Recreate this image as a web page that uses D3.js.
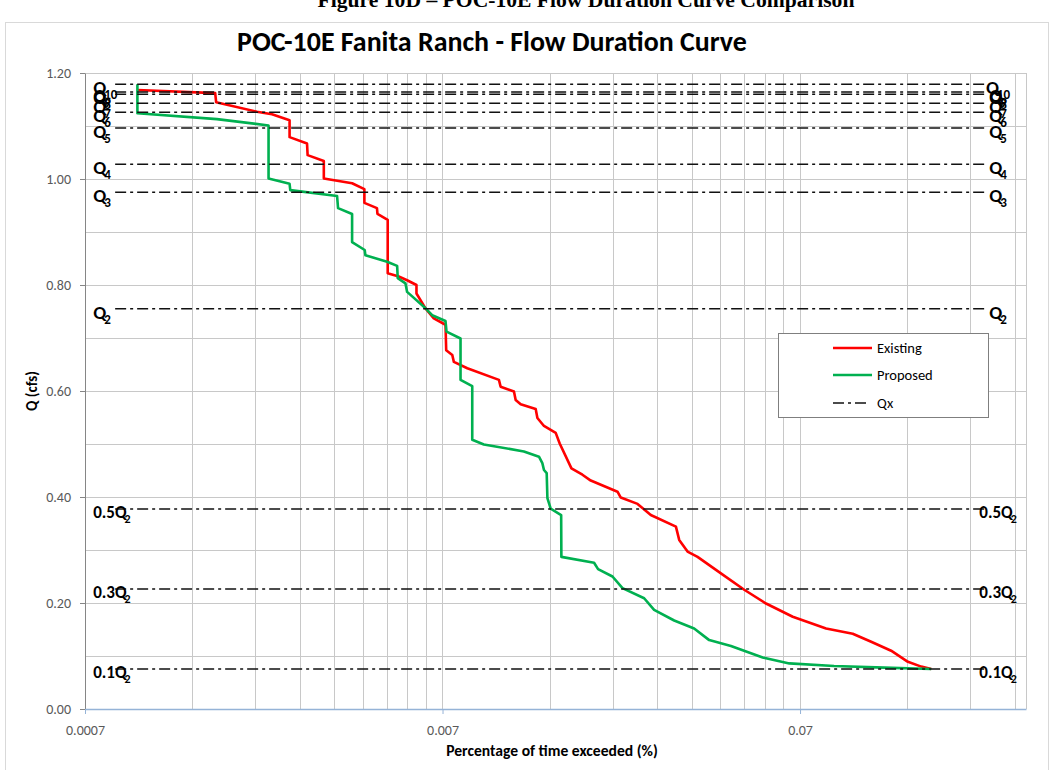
<!DOCTYPE html>
<html><head><meta charset="utf-8">
<script src="https://cdn.jsdelivr.net/npm/d3@7"></script>
<style>body{margin:0;background:#fff;} svg{display:block;}</style>
</head><body>
<svg id="c" width="1051" height="770"></svg>
<script>
// ---- data ----
const existingX = [0.000981,0.001619,0.001629,0.002119,0.002334,0.002614,0.002614,0.002925,0.002936,0.003259,0.003259,0.00391,0.004232,0.004232,0.004589,0.004604,0.004918,0.004918,0.00528,0.005573,0.005919,0.005919,0.006274,0.006618,0.007136,0.007168,0.007454,0.00753,0.008211,0.010066,0.010178,0.011089,0.011213,0.011579,0.012755,0.012897,0.013455,0.014512,0.014889,0.016058,0.017234,0.018186,0.021602,0.022064,0.024584,0.026768,0.031472,0.032144,0.033915,0.036176,0.042049,0.048874,0.056231,0.066787,0.082775,0.09828,0.11067,0.12586,0.14021,0.15281,0.16296];
const existingY = [1.168,1.162,1.145,1.127,1.122,1.111,1.079,1.067,1.045,1.034,1.001,0.992,0.981,0.955,0.945,0.934,0.923,0.822,0.816,0.809,0.800,0.784,0.756,0.737,0.725,0.677,0.668,0.655,0.643,0.621,0.608,0.599,0.583,0.575,0.566,0.549,0.534,0.521,0.501,0.454,0.442,0.431,0.410,0.399,0.387,0.366,0.344,0.319,0.297,0.287,0.256,0.225,0.199,0.174,0.152,0.142,0.127,0.110,0.089,0.080,0.0755];
const proposedX = [0.000981,0.000981,0.001637,0.002283,0.002283,0.002614,0.002626,0.003549,0.003572,0.00391,0.00391,0.004241,0.00426,0.004899,0.005226,0.005246,0.005514,0.005573,0.006274,0.00655,0.007136,0.007183,0.007861,0.007861,0.008477,0.008477,0.009135,0.011823,0.013027,0.013314,0.013455,0.013692,0.013755,0.014049,0.015029,0.01505,0.018578,0.019061,0.020916,0.022309,0.025648,0.027349,0.031122,0.035392,0.038997,0.044863,0.055034,0.065331,0.08715,0.12054,0.16296];
const proposedY = [1.179,1.124,1.113,1.101,1.001,0.991,0.979,0.968,0.945,0.934,0.881,0.866,0.856,0.844,0.836,0.813,0.803,0.787,0.756,0.743,0.732,0.712,0.699,0.621,0.609,0.508,0.499,0.486,0.476,0.464,0.451,0.445,0.398,0.378,0.366,0.287,0.276,0.264,0.250,0.228,0.209,0.187,0.167,0.152,0.130,0.119,0.097,0.086,0.081,0.078,0.0755];

const qxPrefix = ["", "", "", "", "", "", "", "", "", "0.5", "0.3", "0.1"];
const qxSub    = ["10", "9", "8", "7", "6", "5", "4", "3", "2", "2", "2", "2"];
const qxValues = [1.179, 1.164, 1.160, 1.143, 1.126, 1.096, 1.028, 0.975, 0.755, 0.3775, 0.2265, 0.0755];
const qxExtent = [0.00085, 0.232];

const xTickValues = [0.0007, 0.007, 0.07];
const xTickLabels = ["0.0007", "0.007", "0.07"];
const yTickValues = [0, 0.2, 0.4, 0.6, 0.8, 1.0, 1.2];
const yGridValues = [0.1, 0.2, 0.3, 0.4, 0.5, 0.6, 0.7, 0.8, 0.9, 1.0, 1.1, 1.2];
const legendNames = ["Existing", "Proposed", "Qx"];

const titleText = "POC-10E Fanita Ranch - Flow Duration Curve";
const headerText = "Figure 10D – POC-10E Flow Duration Curve Comparison";
const xTitle = "Percentage of time exceeded (%)";
const yTitle = "Q (cfs)";

// ---- drawing ----
const FONT = "Carlito, Calibri, Lato, sans-serif";
const svg = d3.select("#c");
const x = d3.scaleLog().domain([0.0007, 0.3]).range([85, 1026]);
const y = d3.scaleLinear().domain([0, 1.2]).range([709, 73]);

function fit(sel, w) {
  const cur = sel.node().getComputedTextLength();
  const fs = parseFloat(sel.attr("font-size"));
  sel.attr("font-size", fs * w / cur);
}

// chart border
svg.append("rect").attr("x", 5.5).attr("y", 22.5).attr("width", 1043).attr("height", 760)
  .attr("fill", "none").attr("stroke", "#D9D9D9");

// header (cut off at top, as in the source page)
const hdr = svg.append("text").attr("x", 586).attr("y", 7).attr("text-anchor", "middle")
  .attr("font-family", "Liberation Serif, serif").attr("font-weight", "bold").attr("font-size", 18)
  .text(headerText);
fit(hdr, 537);

// title
const ttl = svg.append("text").attr("x", 492).attr("y", 51).attr("text-anchor", "middle")
  .attr("font-family", FONT).attr("font-weight", "bold").attr("font-size", 24).attr("fill", "#000")
  .text(titleText);
fit(ttl, 510);

// gridlines
const gridX = [];
[0.0007, 0.007, 0.07].forEach(d => { for (let k = 2; k <= 9; k++) { const v = d * k; if (v <= 0.3) gridX.push(v); } });
gridX.push(0.007, 0.07, 0.3);
svg.append("g").selectAll("line").data(gridX).join("line")
  .attr("x1", d => x(d)).attr("x2", d => x(d)).attr("y1", y(0)).attr("y2", y(1.2))
  .attr("stroke", "#C8C8C8").attr("stroke-width", 1).attr("shape-rendering", "crispEdges");
svg.append("g").selectAll("line").data(yGridValues).join("line")
  .attr("x1", x(0.0007)).attr("x2", x(0.3)).attr("y1", d => y(d)).attr("y2", d => y(d))
  .attr("stroke", "#C8C8C8").attr("stroke-width", 1).attr("shape-rendering", "crispEdges");

// axes
const yAxis = svg.append("g").attr("transform", `translate(${x(0.0007)},0)`)
  .call(d3.axisLeft(y).tickValues(yTickValues).tickFormat(d3.format(".2f")).tickSize(5).tickPadding(9).tickSizeOuter(0));
yAxis.select(".domain").attr("stroke", "#868686");
yAxis.selectAll(".tick line").attr("stroke", "#868686");
yAxis.selectAll("text").attr("font-family", FONT).attr("font-size", 14).attr("fill", "#595959");

const xAxis = svg.append("g").attr("transform", `translate(0,${y(0)})`)
  .call(d3.axisBottom(x).tickValues(xTickValues).tickFormat((d, i) => xTickLabels[i]).tickSize(5).tickPadding(11).tickSizeOuter(0));
xAxis.select(".domain").attr("stroke", "#95B3D7").attr("stroke-width", 1.5);
xAxis.selectAll(".tick line").attr("stroke", "#95B3D7");
xAxis.selectAll("text").attr("font-family", FONT).attr("font-size", 14).attr("fill", "#595959");

// axis titles
const xt = svg.append("text").attr("x", 552).attr("y", 756).attr("text-anchor", "middle")
  .attr("font-family", FONT).attr("font-weight", "bold").attr("font-size", 13).text(xTitle);
fit(xt, 212);
const yt = svg.append("text").attr("transform", "translate(37,391) rotate(-90)").attr("text-anchor", "middle")
  .attr("font-family", FONT).attr("font-weight", "bold").attr("font-size", 13).text(yTitle);
fit(yt, 40);

// curves
const line = d3.line().x(d => x(d[0])).y(d => y(d[1]));
const existing = existingX.map((v, i) => [v, existingY[i]]);
const proposed = proposedX.map((v, i) => [v, proposedY[i]]);
svg.append("path").datum(existing).attr("d", line).attr("fill", "none")
  .attr("stroke", "#FF0000").attr("stroke-width", 2.6).attr("stroke-linejoin", "round");
svg.append("path").datum(proposed).attr("d", line).attr("fill", "none")
  .attr("stroke", "#00B050").attr("stroke-width", 2.6).attr("stroke-linejoin", "round");

// Qx lines
const DASH = "11,4,3,4";
svg.append("g").selectAll("line").data(qxValues).join("line")
  .attr("x1", x(qxExtent[0])).attr("x2", x(qxExtent[1]))
  .attr("y1", d => y(d)).attr("y2", d => y(d))
  .attr("stroke", "#111").attr("stroke-width", 1.5).attr("stroke-dasharray", DASH);

function qLabel(g, i, xpos, anchor) {
  const isFrac = qxPrefix[i] !== "";
  const t = g.append("text").attr("x", xpos).attr("y", y(qxValues[i]) + (isFrac ? 9 : 10))
    .attr("text-anchor", anchor).attr("font-family", FONT).attr("font-weight", "bold")
    .attr("font-size", isFrac ? 17 : 19).attr("fill", "#000");
  t.append("tspan").text(qxPrefix[i] + "Q");
  t.append("tspan").attr("dx", -2).attr("dy", 5).attr("font-size", isFrac ? 12 : 13).text(qxSub[i]);
}
const lg = svg.append("g");
qxValues.forEach((v, i) => {
  qLabel(lg, i, x(qxExtent[0]) - 22, "start");
  qLabel(lg, i, x(qxExtent[1]) + 12, "middle");
});

// legend
const leg = svg.append("g");
leg.append("rect").attr("x", 778.5).attr("y", 333.5).attr("width", 210).attr("height", 84)
  .attr("fill", "#fff").attr("stroke", "#7F7F7F");
const legY = [348, 375, 403];
const legStroke = ["#FF0000", "#00B050", "#111"];
legendNames.forEach((n, i) => {
  leg.append("line").attr("x1", 833).attr("x2", i === 2 ? 867 : 872).attr("y1", legY[i]).attr("y2", legY[i])
    .attr("stroke", legStroke[i]).attr("stroke-width", i === 2 ? 1.5 : 2.6)
    .attr("stroke-dasharray", i === 2 ? DASH : null);
  leg.append("text").attr("x", 877).attr("y", legY[i] + 5).attr("font-family", FONT)
    .attr("font-size", 14.5).attr("fill", "#000").text(n);
});
</script>
</body></html>
